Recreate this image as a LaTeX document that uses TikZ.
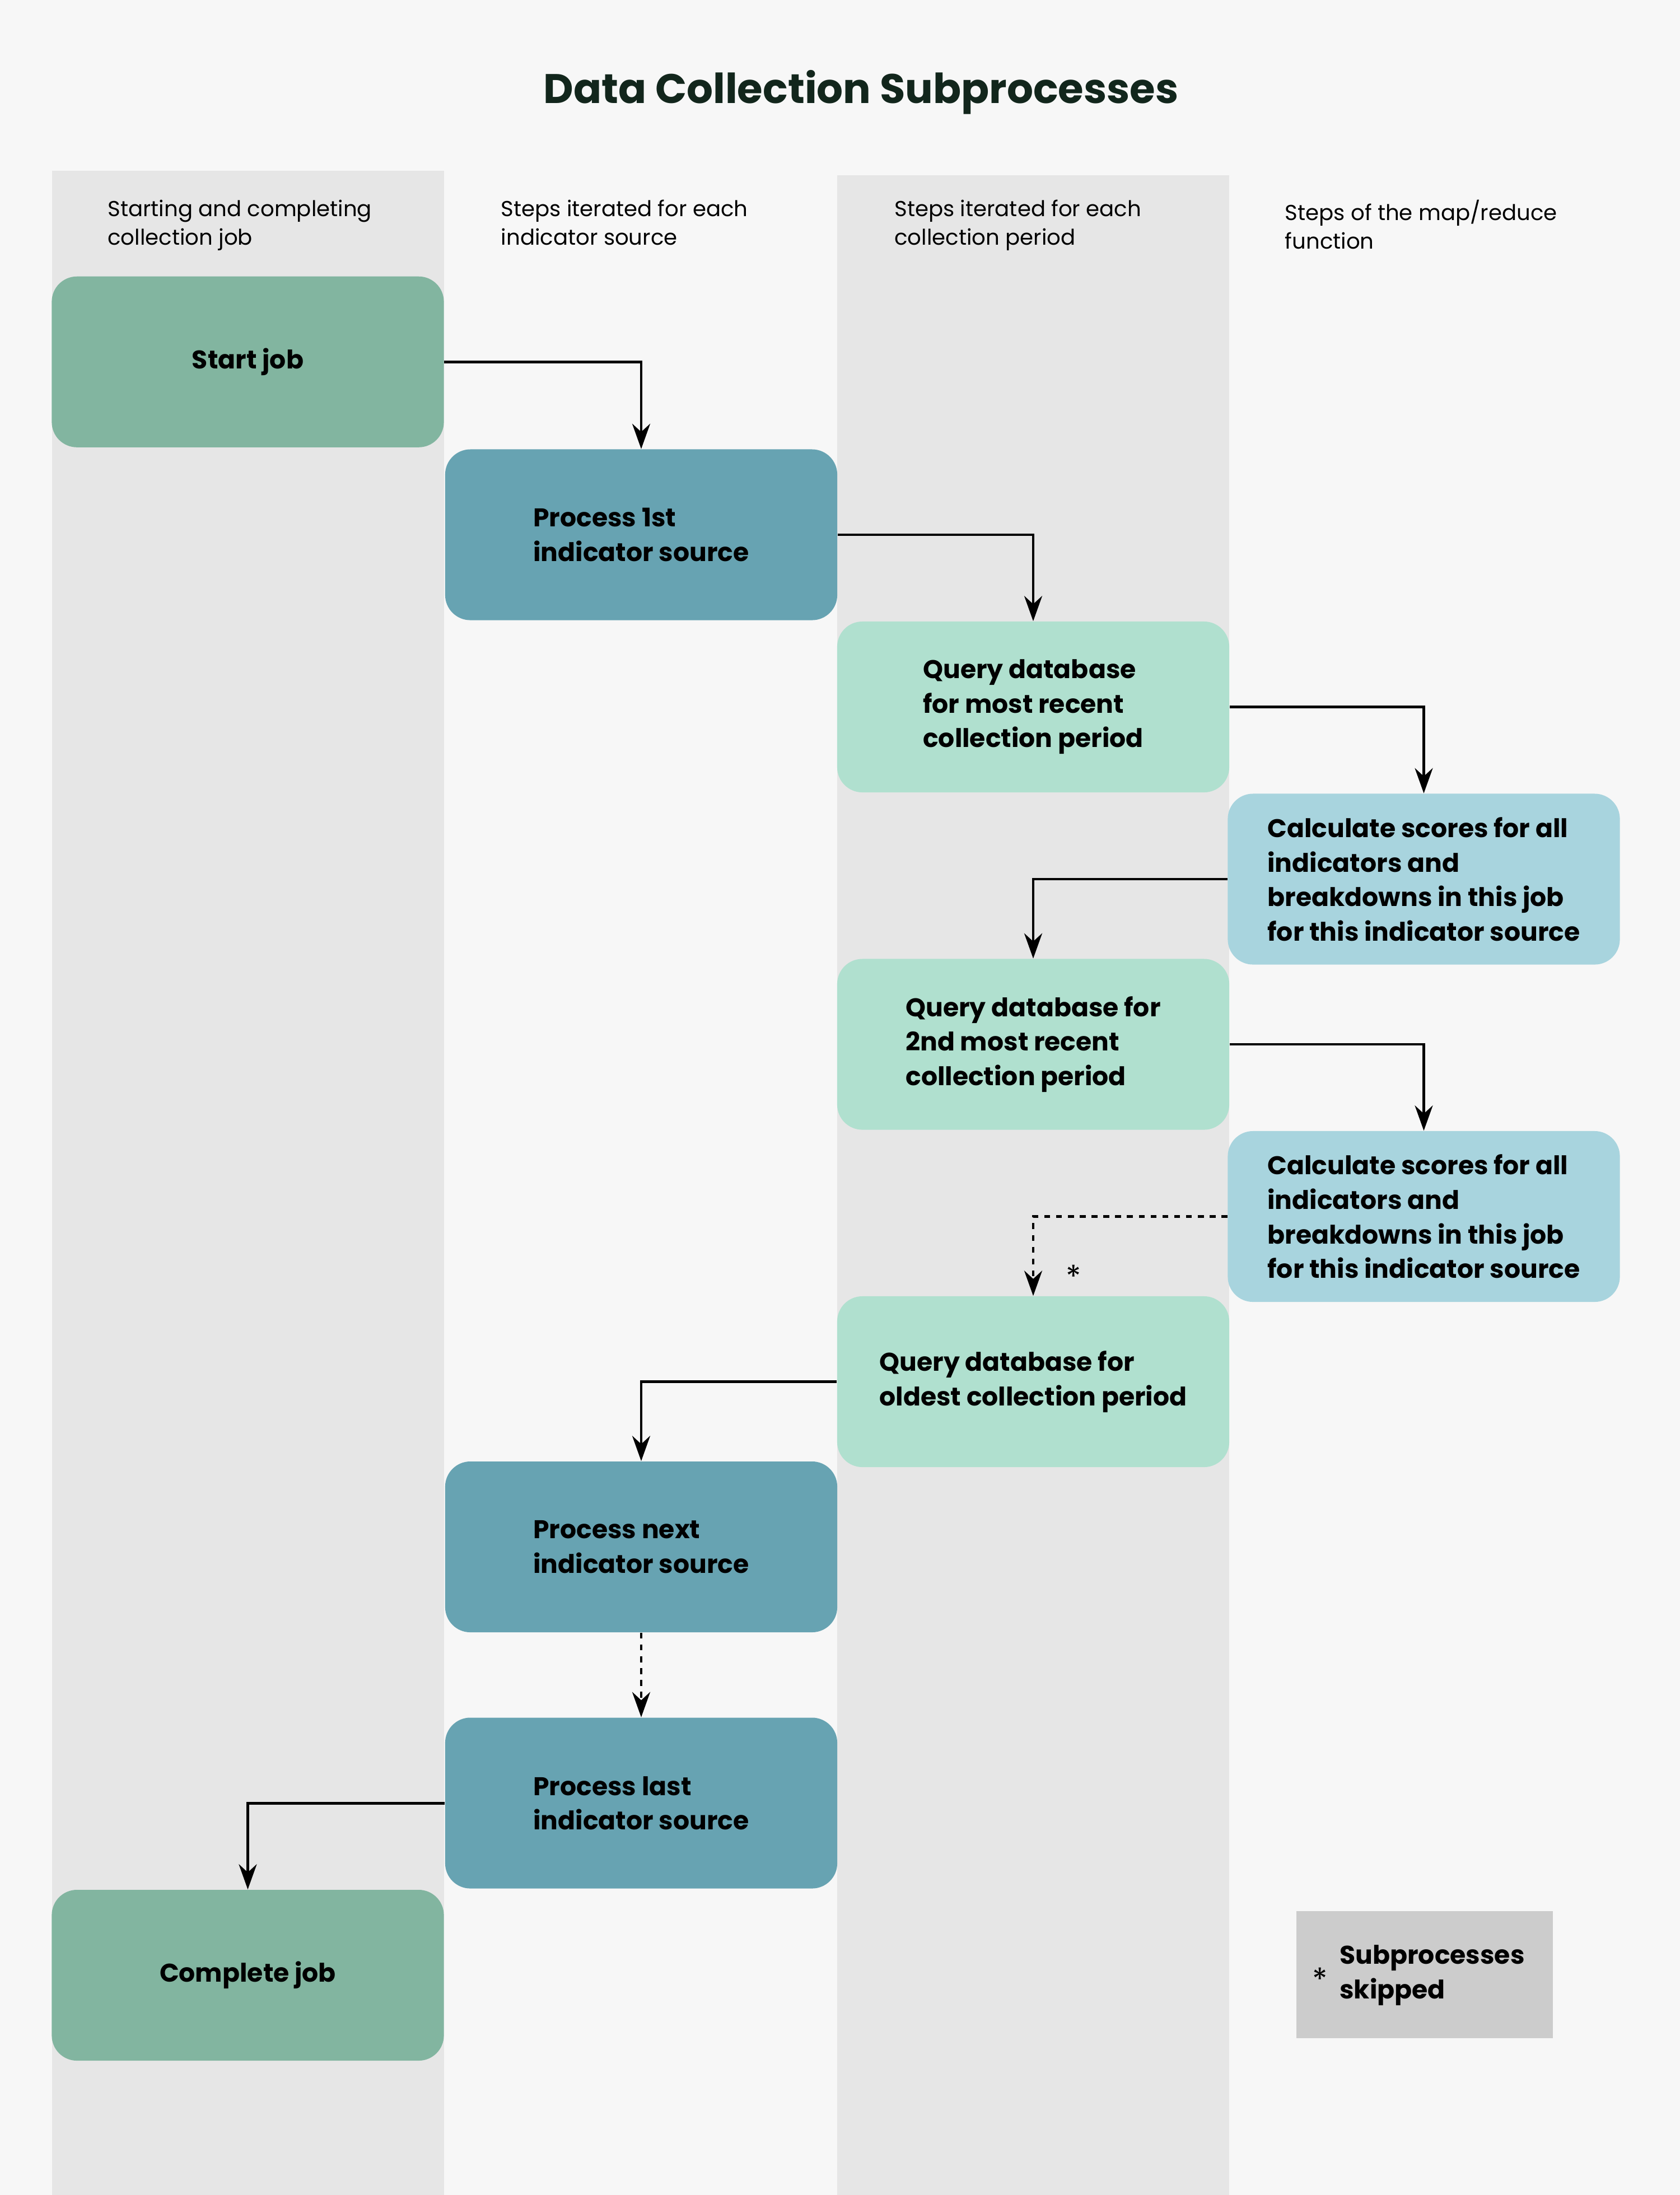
\documentclass[tikz,border=0pt]{standalone}
\usepackage{fontspec}
\setmainfont{Poppins}
\usetikzlibrary{arrows.meta}
\definecolor{pagebg}{HTML}{F7F7F7}
\definecolor{lanegray}{HTML}{E6E6E6}
\definecolor{jobgreen}{HTML}{82B5A0}
\definecolor{sourceblue}{HTML}{67A3B2}
\definecolor{periodmint}{HTML}{B0E0CF}
\definecolor{calcblue}{HTML}{A8D4DE}
\definecolor{legendgray}{HTML}{CCCCCC}
\definecolor{titlegreen}{HTML}{12261C}
\tikzset{
  phase/.style={rounded corners=0.45cm, minimum width=7cm, minimum height=3.05cm,
    align=left, font=\fontsize{13}{17.5}\selectfont\bfseries, text=black},
  lanehead/.style={anchor=north west, align=left, font=\fontsize{11}{14.5}\selectfont},
  arr/.style={-{Stealth[length=0.45cm,width=0.32cm]}, line width=1.4pt},
  skip/.style={arr, dash pattern=on 3pt off 3pt}
}
\begin{document}
\begin{tikzpicture}[x=0.025cm,y=-0.025cm]
\useasboundingbox (0,0) rectangle (1200,1568);
\fill[pagebg] (0,0) rectangle (1200,1568);

% Lanes
\fill[lanegray] (37,122) rectangle (317,1568);
\fill[lanegray] (598,125) rectangle (878,1568);

% Title
\node[font=\fontsize{21}{25}\selectfont\bfseries, text=titlegreen] (title) at (615,66) {Data Collection Subprocesses};

% Lane headers
\node[lanehead] (h1) at (72,138) {Starting and completing\\collection job};
\node[lanehead] (h2) at (353,138) {Steps iterated for each\\indicator source};
\node[lanehead] (h3) at (634,138) {Steps iterated for each\\collection period};
\node[lanehead] (h4) at (913,138) {Steps of the map/reduce\\function};

% Steps
\node[phase, fill=jobgreen] (start) at (177,258.5) {Start job};
\node[phase, fill=sourceblue] (first) at (458,382) {Process 1st\\indicator source};
\node[phase, fill=periodmint] (recent) at (738,505) {Query database\\for most recent\\collection period};
\node[phase, fill=calcblue] (calcA) at (1017,628) {Calculate scores for all\\indicators and\\breakdowns in this job\\for this indicator source};
\node[phase, fill=periodmint] (second) at (738,746) {Query database for\\2nd most recent\\collection period};
\node[phase, fill=calcblue] (calcB) at (1017,869) {Calculate scores for all\\indicators and\\breakdowns in this job\\for this indicator source};
\node[phase, fill=periodmint] (oldest) at (738,987) {Query database for\\oldest collection period};
\node[phase, fill=sourceblue] (next) at (458,1105) {Process next\\indicator source};
\node[phase, fill=sourceblue] (last) at (458,1288) {Process last\\indicator source};
\node[phase, fill=jobgreen] (complete) at (177,1411) {Complete job};

% Connectors
\draw[arr] (start.east) -| (first.north);
\draw[arr] (first.east) -| (recent.north);
\draw[arr] (recent.east) -| (calcA.north);
\draw[arr] (calcA.west) -| (second.north);
\draw[arr] (second.east) -| (calcB.north);
\draw[skip] (calcB.west) -| (oldest.north);
\node[font=\fontsize{16}{16}\selectfont] (star) at (767,912) {*};
\draw[arr] (oldest.west) -| (next.north);
\draw[skip] (next.south) -- (last.north);
\draw[arr] (last.west) -| (complete.north);

% Legend
\fill[legendgray] (926,1365) rectangle (1109,1456);
\node[font=\fontsize{16}{16}\selectfont] (legstar) at (943,1414) {*};
\node[anchor=west, align=left, font=\fontsize{13}{17.5}\selectfont\bfseries] (legtext) at (952,1411) {Subprocesses\\skipped};
\end{tikzpicture}
\end{document}
